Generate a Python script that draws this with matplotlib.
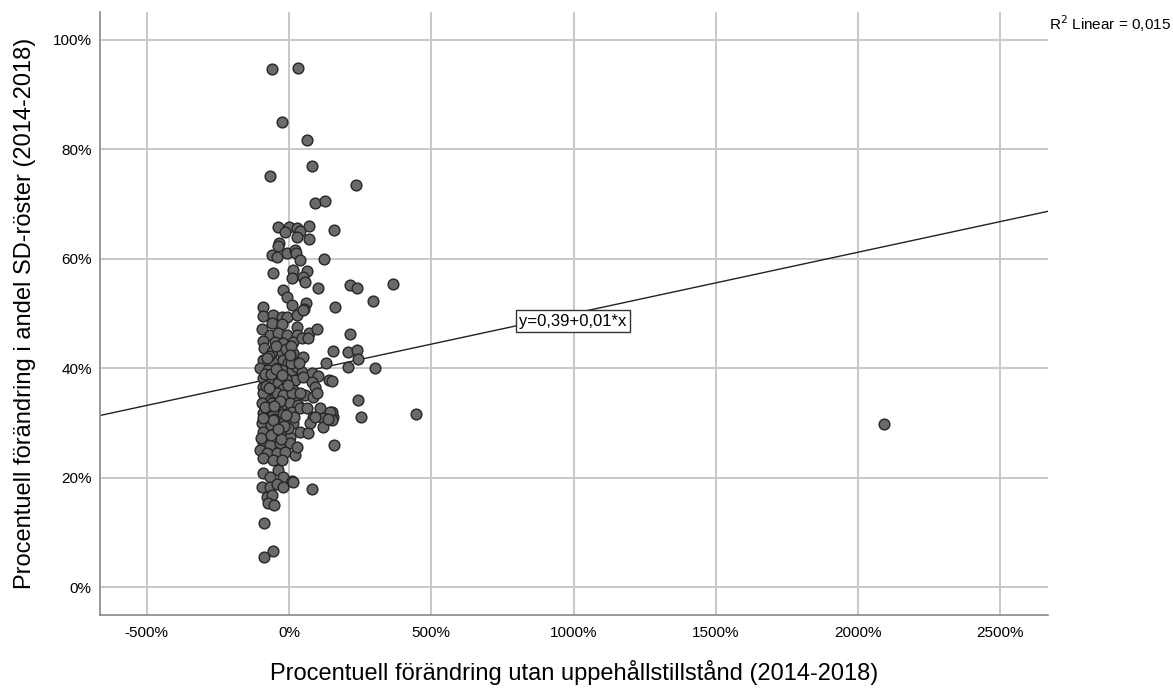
import matplotlib
matplotlib.use("Agg")
from matplotlib import pyplot as plt
from matplotlib.ticker import PercentFormatter, MultipleLocator
import numpy as np

plt.rcParams['font.family'] = ['Liberation Sans', 'DejaVu Sans']
plt.rcParams['axes.unicode_minus'] = False

# percent change without residence permit (2014-2018), in %
x_change = [-60, 32, -25, 63, 81, -67, 235, 91, 127, -39, 0, 28, 39, 70, -14, 28, 70, 158,
            -35, -39, -60, -42, -7, 21, 25, 39, 123, -56, 14, 63, 11, 49, 56, 102, -21, -7,
            11, 60, -91, 162, 214, 239, 365, 295, 53, -91, -56, -25, -7, 28, 49, -95, -60,
            -25, -67, -39, -7, 28, 28, 70, 98, -91, -88, -49, -21, 14, 46, 67, -60, -25, 14,
            49, -91, -56, -21, -4, -102, -74, -42, -25, 11, 28, 46, 81, 102, 141, -91, -67,
            -39, -7, 21, 49, 81, -91, -56, -21, 14, 91, 56, 84, -84, -49, -14, 21, 214, 155,
            207, 239, 130, 207, 242, 302, 242, 253, 446, 158, 155, 151, 151, -91, -42, -21,
            11, 39, 98, -95, -60, -25, 4, 32, -91, -56, -21, 11, 39, 63, 109, 144, 84, 119,
            151, -95, -63, -25, 14, 74, 119, -91, -49, -21, 4, 39, 67, -91, -67, -32, 4,
            -102, -77, -42, -14, 21, -91, -56, -25, -91, -67, -39, -21, 11, -95, -67, 81,
            -42, -21, 14, -77, -60, -74, -53, -88, -88, -56, 2091, 28, 137, 91,
            -84, -70, -46, -32, -11, 7, -77, -53, -28, -4, 18, -81, -63, -35, -11, 7, 35,
            -98, -86, -72, -58, -44, -30, -16, -2, -93, -79, -65, -51, -37, -23, -9, 5]
# percent change in share of SD votes (2014-2018), in %
y_change = [94.7, 94.9, 85.0, 81.7, 77.0, 75.1, 73.5, 70.2, 70.6, 65.8, 65.8, 65.6, 65.1, 66.0,
            64.9, 64.0, 63.6, 65.3, 62.9, 62.3, 60.7, 60.3, 61.1, 61.6, 61.1, 59.8, 60.0, 57.4,
            57.9, 57.8, 56.5, 56.7, 55.8, 54.7, 54.3, 53.0, 51.5, 51.9, 51.2, 51.2, 55.2, 54.7,
            55.4, 52.3, 50.8, 49.5, 49.7, 49.4, 49.4, 49.7, 50.6, 47.2, 48.3, 48.1, 46.1, 46.4,
            46.1, 47.5, 46.1, 46.4, 47.2, 45.0, 43.7, 44.8, 44.6, 44.8, 45.5, 45.5, 43.0, 42.8,
            42.8, 42.0, 41.5, 41.1, 41.5, 40.9, 40.0, 39.7, 40.0, 39.7, 39.7, 40.2, 39.3, 39.1,
            38.6, 37.8, 38.2, 37.5, 37.3, 37.5, 37.8, 38.4, 37.5, 36.6, 35.8, 36.2, 36.0, 36.6,
            35.1, 34.7, 34.7, 34.5, 34.7, 34.7, 46.2, 43.1, 43.0, 43.3, 40.9, 40.2, 41.7, 40.0,
            34.2, 31.1, 31.6, 26.0, 31.1, 32.0, 37.7, 35.5, 35.5, 35.1, 35.5, 35.5, 35.5, 33.6,
            33.6, 33.3, 33.6, 33.3, 31.8, 31.8, 31.6, 32.0, 32.7, 32.7, 32.7, 32.0, 31.1, 30.9,
            30.5, 30.0, 29.6, 30.0, 30.0, 30.0, 29.2, 28.3, 28.2, 28.2, 27.4, 28.3, 28.2, 26.5,
            26.0, 26.3, 26.3, 25.0, 24.5, 24.5, 24.7, 24.1, 23.6, 23.2, 23.2, 20.8, 20.1, 21.4,
            20.1, 19.4, 18.3, 18.3, 17.9, 18.8, 18.3, 19.2, 16.5, 16.8, 15.4, 15.0, 11.7, 5.5,
            6.6, 29.8, 25.6, 30.7, 31.1,
            38.9, 42.3, 44.1, 39.0, 43.5, 41.0, 33.0, 30.8, 27.0, 29.0, 31.0, 36.8, 39.0, 33.9,
            38.0, 44.0, 41.0,
            27.2, 32.9, 36.4, 30.6, 39.8, 34.0, 29.4, 37.0, 30.9, 41.8, 27.8, 33.1, 28.9, 38.7,
            31.4, 42.4]

# fit line
fit_intercept = 38.8
fit_slope = 0.0112
r2_text = "R$^2$ Linear = 0,015"
eq_text = "y=0,39+0,01*x"

x_min, x_max = -664, 2667
y_min, y_max = -5.1, 105.1

fig = plt.figure(figsize=(11.73, 6.88), dpi=100)
ax = fig.add_axes([0.0853, 0.1061, 0.8081, 0.8765])

ax.set_xlim(x_min, x_max)
ax.set_ylim(y_min, y_max)
ax.xaxis.set_major_locator(MultipleLocator(500))
ax.yaxis.set_major_locator(MultipleLocator(20))
ax.xaxis.set_major_formatter(PercentFormatter(decimals=0))
ax.yaxis.set_major_formatter(PercentFormatter(decimals=0))
ax.grid(True, color='#c8c8c8', linewidth=1.4)
ax.set_axisbelow(True)
ax.tick_params(axis='x', length=0, labelsize=11, colors='#000000', pad=8)
ax.tick_params(axis='y', length=0, labelsize=11, colors='#000000', pad=6)

for s in ['top', 'right']:
    ax.spines[s].set_visible(False)
for s in ['left', 'bottom']:
    ax.spines[s].set_color('#888888')
    ax.spines[s].set_linewidth(1.2)

ax.scatter(x_change, y_change, s=60, facecolor='#6a6a6a', edgecolor='#262626',
           linewidth=1.0, zorder=3)

xs = np.array([x_min, x_max])
ax.plot(xs, fit_intercept + fit_slope * xs, color='#222222', linewidth=1.0, zorder=2)

ax.text(998, 48.6, eq_text, ha='center', va='center', fontsize=12, zorder=4,
        bbox=dict(boxstyle='square,pad=0.22', facecolor='white', edgecolor='#333333', linewidth=1.0))

fig.text(0.8943, 0.966, r2_text, ha='left', va='center', fontsize=11)

ax.set_xlabel("Procentuell förändring utan uppehållstillstånd (2014-2018)", fontsize=17, labelpad=14)
ax.set_ylabel("Procentuell förändring i andel SD-röster (2014-2018)", fontsize=17, labelpad=12)

fig.savefig("out.png", dpi=100)
